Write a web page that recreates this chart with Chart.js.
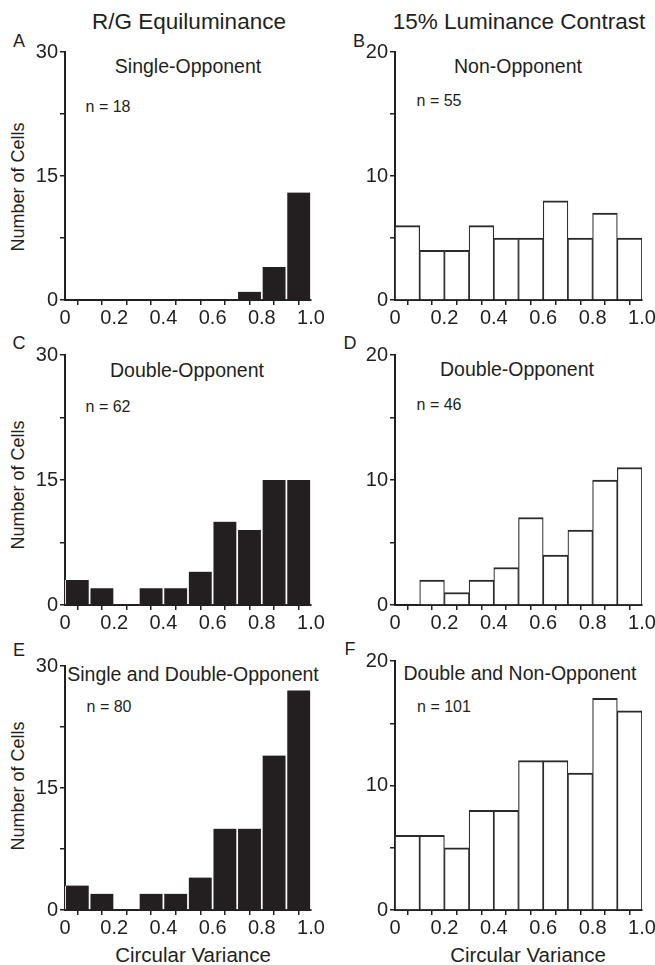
<!DOCTYPE html>
<html>
<head>
<meta charset="utf-8">
<script src="https://cdn.jsdelivr.net/npm/chart.js@4"></script>
<style>
  body{margin:0;background:#fff;width:655px;height:965px;position:relative;overflow:hidden;font-family:"Liberation Sans",Arial,sans-serif;color:#231f20}
  canvas{position:absolute}
  .t{position:absolute;white-space:nowrap;transform:translate(-50%,-50%);line-height:1}
  .head{font-size:22.5px}
  .letter{font-size:18px}
  .sub{font-size:19.5px}
  .n{font-size:16px}
  .ytitle{font-size:18px;transform:translate(-50%,-50%) rotate(-90deg)}
  .xtitle{font-size:20.5px}
</style>
</head>
<body>

<div class="t head" style="left:189px;top:22px">R/G Equiluminance</div>
<div class="t head" style="left:519px;top:22px">15% Luminance Contrast</div>

<div class="t letter" style="left:19px;top:41px">A</div>
<div class="t letter" style="left:359px;top:41px">B</div>
<div class="t letter" style="left:19px;top:343px">C</div>
<div class="t letter" style="left:350px;top:343px">D</div>
<div class="t letter" style="left:19px;top:650px">E</div>
<div class="t letter" style="left:350px;top:649px">F</div>

<div class="t sub" style="left:188px;top:67px">Single-Opponent</div>
<div class="t sub" style="left:518px;top:67px">Non-Opponent</div>
<div class="t sub" style="left:187px;top:371px">Double-Opponent</div>
<div class="t sub" style="left:517px;top:370px">Double-Opponent</div>
<div class="t sub" style="left:193px;top:675px">Single and Double-Opponent</div>
<div class="t sub" style="left:520px;top:674px">Double and Non-Opponent</div>

<div class="t n" style="left:108px;top:107px">n = 18</div>
<div class="t n" style="left:439px;top:101px">n = 55</div>
<div class="t n" style="left:108px;top:407px">n = 62</div>
<div class="t n" style="left:439px;top:405px">n = 46</div>
<div class="t n" style="left:109px;top:707px">n = 80</div>
<div class="t n" style="left:444px;top:707px">n = 101</div>

<div class="t ytitle" style="left:18px;top:187px">Number of Cells</div>
<div class="t ytitle" style="left:18px;top:485px">Number of Cells</div>
<div class="t ytitle" style="left:18px;top:786px">Number of Cells</div>

<div class="t xtitle" style="left:193px;top:955px">Circular Variance</div>
<div class="t xtitle" style="left:528px;top:955px">Circular Variance</div>

<canvas id="a" width="330" height="295" style="left:0;top:35px"></canvas>
<canvas id="b" width="325" height="295" style="left:330px;top:35px"></canvas>
<canvas id="c" width="330" height="300" style="left:0;top:335px"></canvas>
<canvas id="d" width="325" height="300" style="left:330px;top:335px"></canvas>
<canvas id="e" width="330" height="295" style="left:0;top:645px"></canvas>
<canvas id="f" width="325" height="295" style="left:330px;top:645px"></canvas>

<script>
// bin centres of circular variance (0-1, bins of 0.1)
const bins = [0.05, 0.15, 0.25, 0.35, 0.45, 0.55, 0.65, 0.75, 0.85, 0.95]
const xTickLabels = ['0', '0.2', '0.4', '0.6', '0.8', '1.0']

// R/G equiluminance (left column)
const singleOpp = [0, 0, 0, 0, 0, 0, 0, 1, 4, 13]
const doubleOppRG = [3, 2, 0, 2, 2, 4, 10, 9, 15, 15]
const singleDoubleOpp = [3, 2, 0, 2, 2, 4, 10, 10, 19, 27]
const yTicksRG = [0, 15, 30]

// 15% luminance contrast (right column)
const nonOpp = [6, 4, 4, 6, 5, 5, 8, 5, 7, 5]
const doubleOppLum = [0, 2, 1, 2, 3, 7, 4, 6, 10, 11]
const doubleNonOpp = [6, 6, 5, 8, 8, 12, 12, 11, 17, 16]
const yTicksLum = [0, 10, 20]

const ink = '#231f20'
const tickFont = {family: '"Liberation Sans", Arial, sans-serif', size: 20}

function panel(id, values, yTicks, filled, padTop, padRight) {
  const yMax = yTicks[yTicks.length - 1]
  const step = yTicks[1] / 2

  new Chart(document.getElementById(id), {
    type: 'bar',
    data: {
      datasets: [{
        data: bins.map((x, i) => ({x: x, y: values[i]})),
        backgroundColor: filled ? ink : '#fff',
        borderColor: filled ? '#fff' : '#2b2b2b',
        borderWidth: filled ? {left: 1.2, right: 1.2, top: 0, bottom: 0} : {left: 1.2, right: 1.2, top: 2, bottom: 0},
        borderSkipped: 'bottom',
        barPercentage: 1,
        categoryPercentage: 1
      }]
    },
    options: {
      responsive: false,
      animation: false,
      devicePixelRatio: 1,
      layout: {padding: {top: padTop, right: padRight, left: 0, bottom: 0}},
      plugins: {legend: {display: false}, tooltip: {enabled: false}},
      scales: {
        x: {
          type: 'linear',
          min: 0,
          max: 1,
          offset: false,
          z: 1,
          ticks: {
            stepSize: 0.1,
            autoSkip: false,
            maxRotation: 0,
            color: ink,
            font: tickFont,
            padding: 1,
            callback: (v) => {
              const i = Math.round(v * 10)
              return i % 2 ? '' : xTickLabels[i / 2]
            }
          },
          grid: {drawOnChartArea: false, tickLength: 5, color: ink, lineWidth: 1.5},
          border: {color: ink, width: 2},
          afterFit: (s) => { s.height = 30; s.paddingLeft = 0; s.paddingRight = 0 }
        },
        y: {
          min: 0,
          max: yMax,
          ticks: {
            stepSize: step,
            color: ink,
            font: tickFont,
            padding: 2,
            callback: (v) => yTicks.includes(v) ? String(v) : ''
          },
          grid: {drawOnChartArea: false, tickLength: 5, color: ink, lineWidth: 1.5},
          border: {color: ink, width: 2},
          afterFit: (s) => { s.width = 65; s.paddingTop = 0; s.paddingBottom = 0 }
        }
      }
    }
  })
}

panel('a', singleOpp, yTicksRG, true, 17, 19)
panel('b', nonOpp, yTicksLum, false, 17, 13)
panel('c', doubleOppRG, yTicksRG, true, 20, 19)
panel('d', doubleOppLum, yTicksLum, false, 20, 13)
panel('e', singleDoubleOpp, yTicksRG, true, 21, 19)
panel('f', doubleNonOpp, yTicksLum, false, 16, 13)
</script>
</body>
</html>
